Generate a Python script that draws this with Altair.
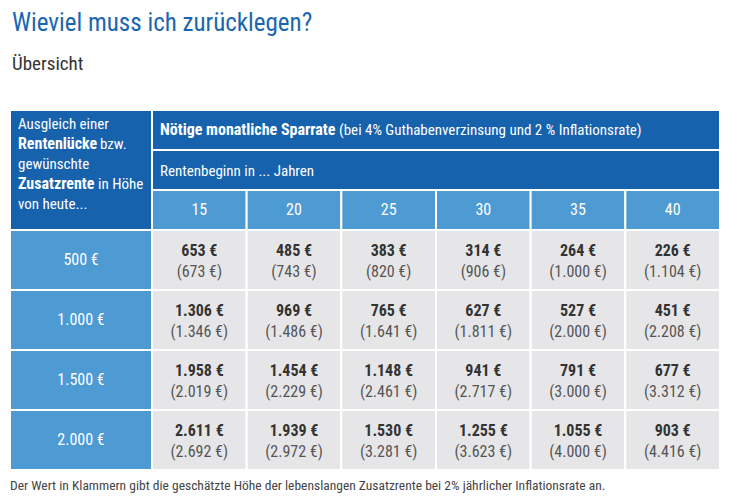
import altair as alt
import pandas as pd

# ---------------- data ----------------
title = "Wieviel muss ich zurücklegen?"
subtitle = "Übersicht"
footer = "Der Wert in Klammern gibt die geschätzte Höhe der lebenslangen Zusatzrente bei 2% jährlicher Inflationsrate an."

years = [15, 20, 25, 30, 35, 40]
renten = [500, 1000, 1500, 2000]
sparrate = [
    [653, 485, 383, 314, 264, 226],
    [1306, 969, 765, 627, 527, 451],
    [1958, 1454, 1148, 941, 791, 677],
    [2611, 1939, 1530, 1255, 1055, 903],
]
zusatzrente = [
    [673, 743, 820, 906, 1000, 1104],
    [1346, 1486, 1641, 1811, 2000, 2208],
    [2019, 2229, 2461, 2717, 3000, 3312],
    [2692, 2972, 3281, 3623, 4000, 4416],
]

head_bold = "Nötige monatliche Sparrate"
head_rest = "(bei 4% Guthabenverzinsung und 2 % Inflationsrate)"
head_row2 = "Rentenbeginn in ... Jahren"
col0_lines = [
    [("Ausgleich einer", False)],
    [("Rentenlücke", True), ("bzw.", False)],
    [("gewünschte", False)],
    [("Zusatzrente", True), ("in Höhe", False)],
    [("von heute...", False)],
]

# ---------------- styling ----------------
FONT = "Liberation Sans Narrow, Roboto Condensed, DejaVu Sans Condensed, sans-serif"
DARK = "#1762ad"
LIGHT = "#4e9ad3"
GREY = "#e6e6e8"
TXT = "#333333"


def eur(v):
    return f"{v:,}".replace(",", ".") + " €"


# table geometry in "units": x: first column 1.5 wide, others 1; y: header rows 2, data rows 3
cells = []
cells.append(dict(x=0, x2=1.5, y=0, y2=6, kind="dark"))
cells.append(dict(x=1.5, x2=7.5, y=0, y2=2, kind="dark"))
cells.append(dict(x=1.5, x2=7.5, y=2, y2=4, kind="dark"))
for i, yr in enumerate(years):
    cells.append(dict(x=1.5 + i, x2=2.5 + i, y=4, y2=6, kind="light"))
for r, rv in enumerate(renten):
    cells.append(dict(x=0, x2=1.5, y=6 + 3 * r, y2=9 + 3 * r, kind="light"))
    for i in range(len(years)):
        cells.append(dict(x=1.5 + i, x2=2.5 + i, y=6 + 3 * r, y2=9 + 3 * r, kind="grey"))
cells_df = pd.DataFrame(cells)

year_df = pd.DataFrame({"x": [2.0 + i for i in range(len(years))], "y": 5.0,
                        "t": [str(y) for y in years]})
row_df = pd.DataFrame({"x": 0.75, "y": [7.5 + 3 * r for r in range(len(renten))],
                       "t": [eur(v) for v in renten]})
vals = []
for r in range(len(renten)):
    for i in range(len(years)):
        vals.append(dict(x=2.0 + i, y1=6 + 3 * r + 1.05, y2=6 + 3 * r + 2.1,
                         a=eur(sparrate[r][i]), b="(" + eur(zusatzrente[r][i]) + ")"))
vals_df = pd.DataFrame(vals)

PX = 710 / 7.5  # px per x unit


def pu(p):  # page x pixel -> x unit
    return (p - 10) / PX


# header texts
hb, hn = [], []
seg_x = {"Rentenlücke": 18, "bzw.": 100, "Zusatzrente": 18, "in Höhe": 98}
for li, line in enumerate(col0_lines):
    for txt, bold in line:
        px = seg_x.get(txt, 18)
        (hb if bold else hn).append(dict(x=pu(px), y=0.7 + li, t=txt))
hb.append(dict(x=pu(160), y=1.0, t=head_bold))
hn.append(dict(x=pu(339), y=1.0, t=head_rest))
hn.append(dict(x=pu(160), y=3.05, t=head_row2))
hb_df = pd.DataFrame(hb)
hn_df = pd.DataFrame(hn)

xs = alt.Scale(domain=[0, 7.5], range=[2, 712], nice=False, zero=False)
ys = alt.Scale(domain=[0, 18], range=[102, 462], nice=False, zero=False)
X = lambda f: alt.X(f, type="quantitative", scale=xs, axis=None)
Y = lambda f: alt.Y(f, type="quantitative", scale=ys, axis=None)

rects = alt.Chart(cells_df).mark_rect(stroke="white", strokeWidth=2).encode(
    x=X("x"), x2="x2", y=Y("y"), y2="y2",
    color=alt.Color("kind:N", scale=alt.Scale(domain=["dark", "light", "grey"],
                                              range=[DARK, LIGHT, GREY]), legend=None),
)

year_txt = alt.Chart(year_df).mark_text(font=FONT, fontSize=16, color="white",
                                        baseline="middle").encode(x=X("x"), y=Y("y"), text="t:N")
row_txt = alt.Chart(row_df).mark_text(font=FONT, fontSize=16, color="white",
                                      baseline="middle").encode(x=X("x"), y=Y("y"), text="t:N")
val_a = alt.Chart(vals_df).mark_text(font=FONT, fontSize=16, fontWeight="bold", color=TXT,
                                     baseline="middle").encode(x=X("x"), y=Y("y1"), text="a:N")
val_b = alt.Chart(vals_df).mark_text(font=FONT, fontSize=16, color="#555555",
                                     baseline="middle").encode(x=X("x"), y=Y("y2"), text="b:N")
hb_txt = alt.Chart(hb_df).mark_text(font=FONT, fontSize=16, fontWeight="bold", color="white",
                                    align="left", baseline="middle").encode(x=X("x"), y=Y("y"), text="t:N")
hn_txt = alt.Chart(hn_df).mark_text(font=FONT, fontSize=15, color="white",
                                    align="left", baseline="middle").encode(x=X("x"), y=Y("y"), text="t:N")

title_txt = alt.Chart(pd.DataFrame({"t": [title]})).mark_text(
    font=FONT, fontSize=25, color="#1a66b0", align="left", baseline="middle"
).encode(text="t:N", x=alt.value(4), y=alt.value(14.5))
sub_txt = alt.Chart(pd.DataFrame({"t": [subtitle]})).mark_text(
    font=FONT, fontSize=19, color="#333333", align="left", baseline="middle"
).encode(text="t:N", x=alt.value(4), y=alt.value(56))
foot_txt = alt.Chart(pd.DataFrame({"t": [footer]})).mark_text(
    font=FONT, fontSize=13.5, color="#444444", align="left", baseline="middle"
).encode(text="t:N", x=alt.value(2), y=alt.value(478))

chart = alt.layer(rects, year_txt, row_txt, val_a, val_b, hb_txt, hn_txt,
                  title_txt, sub_txt, foot_txt).properties(
    width=722, height=488, padding=0, autosize="none"
).configure_view(stroke=None)

chart.save("out.html", embed_options={"renderer": "svg", "actions": False})
